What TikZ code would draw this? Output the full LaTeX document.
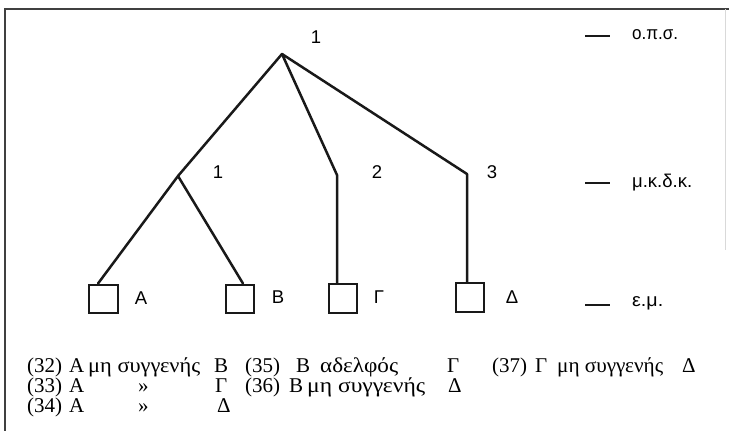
\documentclass[tikz,border=0pt]{standalone}
\usepackage{fontspec}
\usepackage{graphicx}
\setmainfont{Liberation Serif}
\newfontfamily\lsans{Liberation Sans}
\newcommand\wfit[2]{\resizebox{#1}{\height}{#2}}
\begin{document}
\begin{tikzpicture}[x=1pt,y=-1pt,
  tree/.style={line width=2.5pt,draw=black!90,line cap=round,line join=round},
  sq/.style={draw=black!90,line width=2.4pt,minimum size=28.5pt,inner sep=0pt},
  lab/.style={font=\lsans\fontsize{18.5}{20}\selectfont,inner sep=0pt},
  lvl/.style={font=\lsans\fontsize{18.5}{20}\selectfont,inner sep=0pt,anchor=west},
  txt/.style={font=\fontsize{21}{21}\selectfont,inner sep=0pt,anchor=base west},
  tick/.style={line width=2.4pt,draw=black!90}]
\useasboundingbox (0,0) rectangle (729,431);
% frame
\draw[line width=1.6pt,draw=black!75] (5,431) -- (5,9) -- (729,9);
\draw[line width=0.8pt,draw=black!15] (725,9) -- (725,250);
% junctions
\coordinate (r) at (282,54);
\coordinate (n1) at (178,176);
\coordinate (n2) at (337,175);
\coordinate (n3) at (467,174);
% squares
\node[sq] (A) at (103.5,299) {};
\node[sq] (B) at (240,299) {};
\node[sq] (G) at (343,298.5) {};
\node[sq] (D) at (470,297.5) {};
\coordinate (At) at ([xshift=-5.5pt]A.north);
\coordinate (Bt) at ([xshift=3pt]B.north);
\coordinate (Gt) at ([xshift=-6pt]G.north);
\coordinate (Dt) at ([xshift=-3pt]D.north);
% tree lines
\draw[tree] (r) -- (n1) -- (At);
\draw[tree] (n1) -- (Bt);
\draw[tree] (r) -- (n2) -- (Gt);
\draw[tree] (r) -- (n3) -- (Dt);
% tree labels
\node[lab] (l0) at (316,37) {1};
\node[lab] (l1) at (218,172) {1};
\node[lab] (l2) at (377,172) {2};
\node[lab] (l3) at (492,172) {3};
\node[lab] (lA) at (141,298) {A};
\node[lab] (lB) at (278,297) {B};
\node[lab] (lG) at (379,297) {Γ};
\node[lab] (lD) at (512,297) {Δ};
% level markers
\draw[tick] (585,36) -- (610,36);
\draw[tick] (585,183) -- (610,183);
\draw[tick] (585,305) -- (610,305);
\node[lvl] (v1) at (632,35) {\wfit{46pt}{ο.π.σ.}};
\node[lvl] (v2) at (632,183) {\wfit{60pt}{μ.κ.δ.κ.}};
\node[lvl] (v3) at (632,303) {\wfit{31pt}{ε.μ.}};
% bottom text
\node[txt] (t1a) at (27,372) {(32)};
\node[txt] (t1b) at (69,372) {A};
\node[txt] (t1c) at (88,372) {\wfit{112pt}{μη συγγενής}};
\node[txt] (t1d) at (214,372) {B};
\node[txt] (t1e) at (245,372) {(35)};
\node[txt] (t1f) at (296,372) {B};
\node[txt] (t1g) at (320,372) {\wfit{78pt}{αδελφός}};
\node[txt] (t1h) at (447,372) {Γ};
\node[txt] (t1i) at (492,372) {(37)};
\node[txt] (t1j) at (535,372) {Γ};
\node[txt] (t1k) at (557,372) {\wfit{106pt}{μη συγγενής}};
\node[txt] (t1l) at (682,372) {Δ};
\node[txt] (t2a) at (27,392) {(33)};
\node[txt] (t2b) at (69,392) {A};
\node[txt] (t2c) at (138,392) {»};
\node[txt] (t2d) at (215,392) {Γ};
\node[txt] (t2e) at (245,392) {(36)};
\node[txt] (t2f) at (289,392) {B};
\node[txt] (t2g) at (307,392) {\wfit{118pt}{μη συγγενής}};
\node[txt] (t2h) at (448,392) {Δ};
\node[txt] (t3a) at (27,412) {(34)};
\node[txt] (t3b) at (69,412) {A};
\node[txt] (t3c) at (138,412) {»};
\node[txt] (t3d) at (217,412) {Δ};
\end{tikzpicture}
\end{document}
